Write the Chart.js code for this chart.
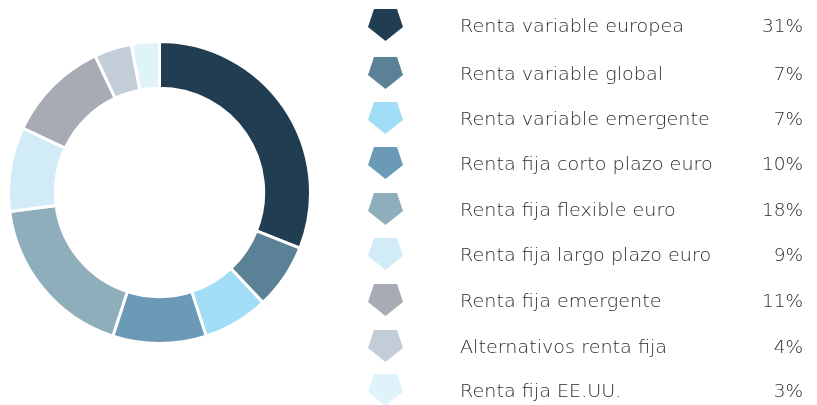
<!DOCTYPE html>
<html>
<head>
<meta charset="utf-8">
<script src="https://cdn.jsdelivr.net/npm/chart.js@4/dist/chart.umd.min.js"></script>
<style>
  html, body { margin: 0; padding: 0; background: #fff; }
  body { width: 817px; height: 405px; position: relative; overflow: hidden; font-family: "DejaVu Sans", sans-serif; }
  #chartBox { position: absolute; left: 7px; top: 40px; width: 305px; height: 305px; }
  #legend { position: absolute; left: 0; top: 0; width: 817px; height: 405px; }
  .row { position: absolute; left: 366px; width: 437px; height: 40px; }
  .row svg { position: absolute; left: 0; top: 5px; }
  .row .lbl { position: absolute; left: 94px; top: 11px; font-size: 18px; line-height: 22px; font-weight: 200; color: #2a2a2a; white-space: nowrap; transform-origin: 0 50%; }
  .row .pct { position: absolute; right: 0; top: 11px; font-size: 18.5px; line-height: 22px; font-weight: 200; color: #2a2a2a; }
</style>
</head>
<body>
<div id="chartBox"><canvas id="pie"></canvas></div>
<div id="legend"></div>
<script>
const labels = [
  'Renta variable europea',
  'Renta variable global',
  'Renta variable emergente',
  'Renta fija corto plazo euro',
  'Renta fija flexible euro',
  'Renta fija largo plazo euro',
  'Renta fija emergente',
  'Alternativos renta fija',
  'Renta fija EE.UU.'
];
const values = [31, 7, 7, 10, 18, 9, 11, 4, 3];
const colors = ['#213d51', '#5a8196', '#a1ddf6', '#6a9ab6', '#8faebb', '#d2ecf7', '#a6abb4', '#c2cdd8', '#e0f2fa'];
const rowTops = [4, 52, 97, 142, 188, 233, 279, 325, 369];

// leyenda (html, texto real)
const legend = document.getElementById('legend');
labels.forEach((l, i) => {
  const row = document.createElement('div');
  row.className = 'row';
  row.style.top = rowTops[i] + 'px';
  row.innerHTML = `<svg width="40" height="36" viewBox="0 0 40 36"><polygon points="8,0 31,0 37,18 19.5,32 2,18" fill="${colors[i]}"/></svg>` +
    `<span class="lbl">${l}</span><span class="pct">${values[i]}%</span>`;
  legend.appendChild(row);
});

// ajuste fino del ancho: la primera etiqueta mide ~224px en el original
const first = legend.querySelector('.lbl');
const sx = 224 / first.getBoundingClientRect().width;
legend.querySelectorAll('.lbl').forEach(el => el.style.transform = `scaleX(${sx})`);

new Chart(document.getElementById('pie'), {
  type: 'doughnut',
  data: {
    labels: labels,
    datasets: [{
      data: values,
      backgroundColor: colors,
      borderColor: '#ffffff',
      borderWidth: 3,
      hoverOffset: 0
    }]
  },
  options: {
    responsive: true,
    maintainAspectRatio: false,
    animation: false,
    cutout: '69%',
    layout: { padding: 0 },
    plugins: { legend: { display: false }, tooltip: { enabled: false } }
  }
});
</script>
</body>
</html>
